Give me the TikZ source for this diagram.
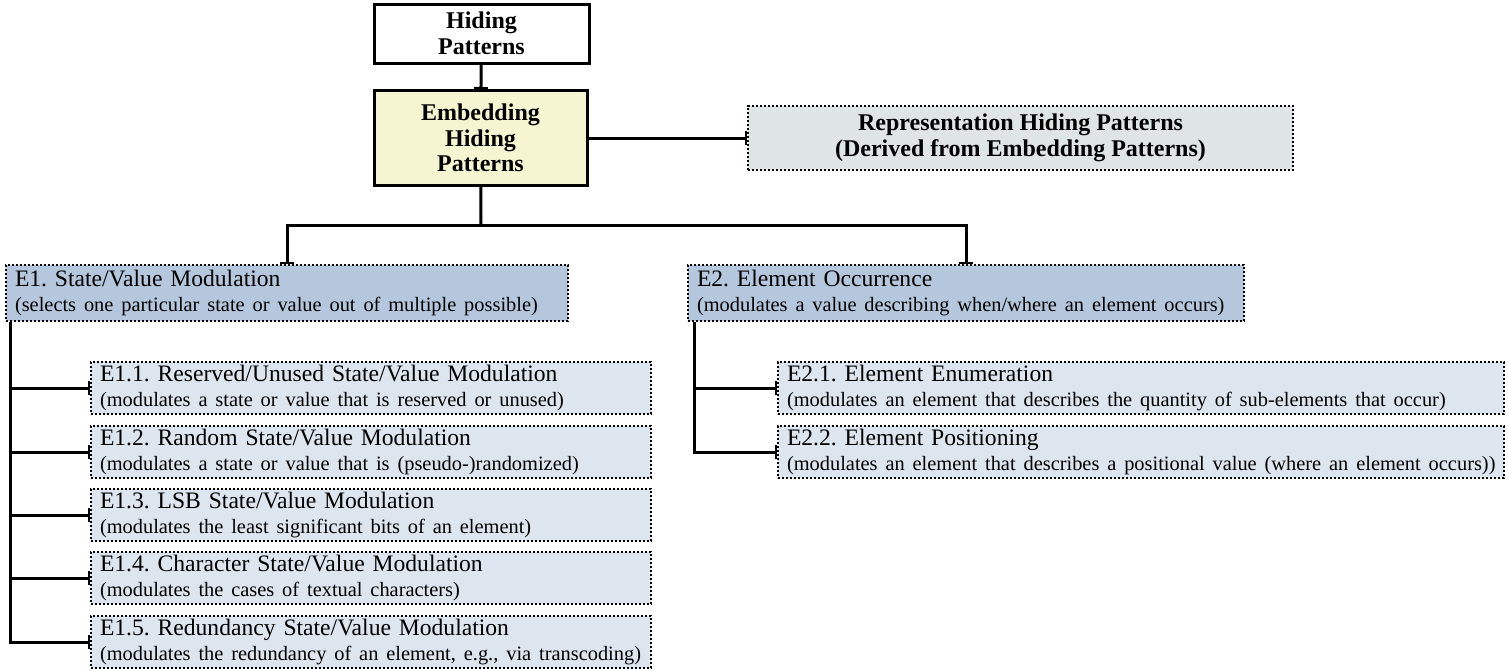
\documentclass[tikz,border=0pt]{standalone}
\usepackage{fontspec}
\setmainfont{Liberation Serif}
\usepackage{tikz}
\usetikzlibrary{arrows.meta}
\definecolor{embfill}{HTML}{F5F5D2}
\definecolor{repfill}{HTML}{DEE5E4}
\definecolor{catfill}{HTML}{B5C7DD}
\definecolor{subfill}{HTML}{DDE5EF}
\frenchspacing
\newcommand{\desc}[1]{\mbox{\fontsize{10.2}{12.6}\selectfont #1}}
\tikzset{
  rootbox/.style = {draw, line width=1.5pt, font=\bfseries\fontsize{12}{12.8}\selectfont,
                    align=center, inner sep=0pt},
  repbox/.style  = {draw, line width=1.4pt, dash pattern=on 1.1pt off 0.9pt, fill=repfill,
                    font=\bfseries\fontsize{12}{13}\selectfont, align=center,
                    minimum width=272.5pt, minimum height=32pt},
  catbox/.style  = {draw, line width=1.4pt, dash pattern=on 1.1pt off 0.9pt, fill=catfill,
                    font=\fontsize{11.8}{12.4}\selectfont, align=left, inner xsep=4.5pt,
                    inner ysep=0pt, text width=#1, minimum height=28pt},
  subbox/.style  = {catbox=#1, fill=subfill, minimum height=26pt},
  tree/.style    = {line width=1.5pt},
  link/.style    = {tree, -{Bar[width=7pt,line width=1pt]}}
}

\begin{document}
\begin{tikzpicture}[x=0.5pt,y=-0.5pt]
  \useasboundingbox (0,0) rectangle (1509,670);
  % top of the hierarchy
  \node[rootbox,minimum width=107.5pt,minimum height=29.5pt] (hid) at (481.5,33.5)
       {Hiding\\Patterns};
  \node[rootbox,fill=embfill,minimum width=106.5pt,minimum height=47.5pt] (emb) at (480.5,138)
       {Embedding\\Hiding\\Patterns};
  \node[repbox] (rep) at (1020.5,138)
       {Representation Hiding Patterns\\(Derived from Embedding Patterns)};
  \draw[link] (hid) -- (emb);
  \draw[link] (emb) -- (rep);
  % embedding categories
  \node[catbox=272pt] (e1) at (287,293)
       {E1. State/Value Modulation\\\desc{(selects one particular state or value out of multiple possible)}};
  \node[catbox=269pt] (e2) at (966,293)
       {E2. Element Occurrence\\\desc{(modulates a value describing when/where an element occurs)}};
  \coordinate (fork) at (481,225);
  \draw[tree] (emb) -- (fork);
  \draw[link] (fork) -| (e1.north);
  \draw[link] (fork) -| (e2.north);
  % E1 patterns
  \node[subbox=271pt] (e11) at (371,388)
       {E1.1. Reserved/Unused State/Value Modulation\\\desc{(modulates a state or value that is reserved or unused)}};
  \node[subbox=271pt] (e12) at (371,452)
       {E1.2. Random State/Value Modulation\\\desc{(modulates a state or value that is (pseudo-)randomized)}};
  \node[subbox=271pt] (e13) at (371,515)
       {E1.3. LSB State/Value Modulation\\\desc{(modulates the least significant bits of an element)}};
  \node[subbox=271pt] (e14) at (371,578)
       {E1.4. Character State/Value Modulation\\\desc{(modulates the cases of textual characters)}};
  \node[subbox=271pt] (e15) at (371,642)
       {E1.5. Redundancy State/Value Modulation\\\desc{(modulates the redundancy of an element, e.g., via transcoding)}};
  \foreach \n in {1,...,5}
    \draw[link] ([xshift=3pt]e1.south west) |- (e1\n.west);
  % E2 patterns
  \node[subbox=354pt] (e21) at (1141,388)
       {E2.1. Element Enumeration\\\desc{(modulates an element that describes the quantity of sub-elements that occur)}};
  \node[subbox=354pt] (e22) at (1141,452)
       {E2.2. Element Positioning\\\desc{(modulates an element that describes a positional value (where an element occurs))}};
  \foreach \n in {1,2}
    \draw[link] ([xshift=4pt]e2.south west) |- (e2\n.west);
\end{tikzpicture}
\end{document}
